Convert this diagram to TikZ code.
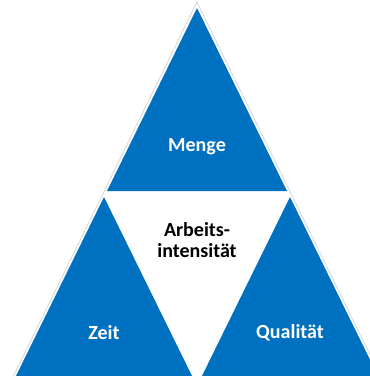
\documentclass[tikz,border=0pt]{standalone}
\usepackage{fontspec}
\setmainfont{Carlito}
\definecolor{segblue}{HTML}{0070C0}
\tikzset{
  seg/.style={fill=segblue,draw=none},
  lbl/.style={font=\bfseries\fontsize{20}{21}\selectfont,align=center},
}
\begin{document}
\begin{tikzpicture}[x=1pt,y=-1pt]
  \useasboundingbox (0,0) rectangle (370,376);
  \clip (0,0) rectangle (370,376);
  \draw[gray!35,line width=0.7pt] (11,381) -- (197,2) -- (383,381);
  \fill[seg] (197,8) -- (287,191) -- (107,191) -- cycle;
  \fill[seg] (104,197) -- (194,380) -- (14,380) -- cycle;
  \fill[seg] (290,197) -- (380,380) -- (200,380) -- cycle;
  \begin{scope}[lbl]
  \node[white] (menge) at (197,147) {Menge};
  \node[white] (zeit) at (104,333) {Zeit};
  \node[white] (qual) at (290,333) {Qualität};
  \node[black] (arbeit) at (197,240) {Arbeits-\\intensität};
 \end{scope}
\end{tikzpicture}
\end{document}
